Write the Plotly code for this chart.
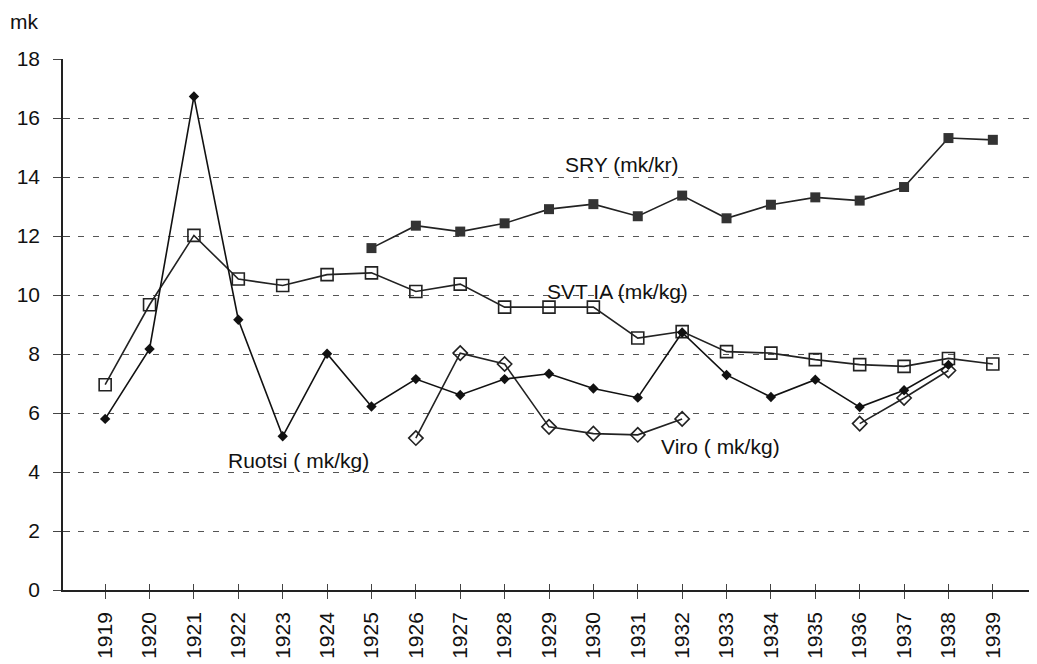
import plotly.graph_objects as go

years = list(range(1919, 1940))
year_labels = [str(y) for y in years]

ruotsi = [5.80, 8.17, 16.73, 9.16, 5.21, 8.01, 6.22, 7.15, 6.61, 7.15, 7.33,
          6.83, 6.52, 8.73, 7.29, 6.54, 7.13, 6.20, 6.77, 7.63, None]
svt_ia = [6.96, 9.67, 12.02, 10.54, 10.32, 10.69, 10.75, 10.12, 10.37, 9.59, 9.59,
          9.59, 8.54, 8.76, 8.08, 8.03, 7.81, 7.64, 7.58, 7.85, 7.66]
sry = [None, None, None, None, None, None, 11.59, 12.35, 12.15, 12.43, 12.91,
       13.08, 12.67, 13.37, 12.60, 13.06, 13.31, 13.20, 13.66, 15.32, 15.26]
viro = [None, None, None, None, None, None, None, 5.15, 8.03, 7.66, 5.53,
        5.30, 5.26, 5.80, None, None, None, 5.64, 6.51, 7.44, None]

y_ticks = list(range(0, 19, 2))

labels = [
    ("SRY (mk/kr)", 1930.64, 14.42),
    ("SVT IA (mk/kg)", 1930.55, 10.12),
    ("Ruotsi ( mk/kg)", 1923.35, 4.38),
    ("Viro ( mk/kg)", 1932.87, 4.86),
]

FONT = "Liberation Sans, Arial, sans-serif"
FS = 21

fig = go.Figure()
fig.add_trace(go.Scatter(x=years, y=svt_ia, mode="lines+markers",
                         line=dict(color="#222", width=1.6),
                         marker=dict(symbol="square-open", size=12, color="#222",
                                     line=dict(width=1.6)),
                         name="SVT IA"))
fig.add_trace(go.Scatter(x=years, y=sry, mode="lines+markers",
                         line=dict(color="#222", width=1.6),
                         marker=dict(symbol="square", size=10, color="#333"),
                         name="SRY"))
fig.add_trace(go.Scatter(x=years, y=viro, mode="lines+markers", connectgaps=False,
                         line=dict(color="#222", width=1.6),
                         marker=dict(symbol="diamond-open", size=11, color="#222",
                                     line=dict(width=1.6)),
                         name="Viro"))
fig.add_trace(go.Scatter(x=years, y=ruotsi, mode="lines+markers",
                         line=dict(color="#111", width=1.6),
                         marker=dict(symbol="diamond", size=8, color="#111"),
                         name="Ruotsi"))
# invisible trace to carry the inner tick marks
fig.add_trace(go.Scatter(x=[years[0]], y=[0], xaxis="x2", yaxis="y2",
                         mode="markers", marker=dict(opacity=0), hoverinfo="skip",
                         showlegend=False))

for text, x, y in labels:
    fig.add_annotation(x=x, y=y, xref="x", yref="y", text=text, showarrow=False,
                       font=dict(family=FONT, size=FS, color="#111"))

fig.add_annotation(x=-0.0566, y=1.0697, xref="paper", yref="paper", text="mk",
                   showarrow=False, xanchor="left", yanchor="middle",
                   font=dict(family=FONT, size=FS, color="#111"))

fig.update_layout(
    width=1029, height=656,
    margin=dict(l=55, r=2, t=51, b=74, autoexpand=False),
    paper_bgcolor="white", plot_bgcolor="white",
    showlegend=False,
    font=dict(family=FONT, size=FS, color="#111"),
    xaxis=dict(range=[1918.05, 1939.95], tickvals=years, ticktext=year_labels,
               tickangle=-90, showgrid=False, zeroline=False, automargin=False,
               showline=True, linecolor="#222", linewidth=1.5,
               ticks="outside", ticklen=7, tickcolor="#444", tickwidth=1,
               ticklabelstandoff=5,
               tickfont=dict(family=FONT, size=FS, color="#111")),
    yaxis=dict(range=[0, 18], tickvals=y_ticks, showgrid=True, gridcolor="#555",
               griddash="6px,9px", gridwidth=1, zeroline=False, automargin=False,
               showline=True, linecolor="#222", linewidth=1.5,
               ticks="outside", ticklen=8, tickcolor="#444", tickwidth=1,
               ticklabelstandoff=9,
               tickfont=dict(family=FONT, size=FS, color="#111")),
    xaxis2=dict(range=[1918.05, 1939.95], tickvals=years, overlaying="x",
                side="bottom", anchor="y2", showticklabels=False, showgrid=False,
                zeroline=False, ticks="inside", ticklen=6, tickcolor="#444",
                tickwidth=1, showline=False, automargin=False),
    yaxis2=dict(range=[0, 18], tickvals=y_ticks, overlaying="y", side="left",
                anchor="x2", showticklabels=False, showgrid=False, zeroline=False,
                ticks="inside", ticklen=7, tickcolor="#444", tickwidth=1,
                showline=False, automargin=False),
)

fig.write_html("out.html")
